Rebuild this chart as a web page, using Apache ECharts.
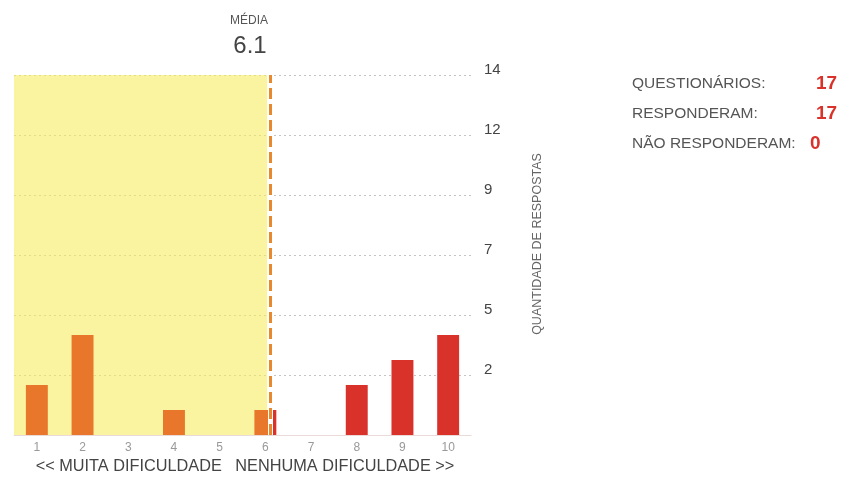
<!DOCTYPE html>
<html><head><meta charset="utf-8">
<script src="https://cdn.jsdelivr.net/npm/echarts@6/dist/echarts.min.js"></script>
<style>html,body{margin:0;padding:0;background:#fff}#c{width:868px;height:477px}</style>
</head><body><div id="c"></div>
<script>
// ---- data ----
const categories = ['1','2','3','4','5','6','7','8','9','10'];
const counts = [2, 4, 0, 1, 0, 1, 0, 2, 3, 4];
const yTickLabels = ['2','5','7','9','12','14'];
const yStep = 2.4;
const meanValue = 6.1;
const meanTitle = 'MÉDIA';
const infoLabels = ['QUESTIONÁRIOS:', 'RESPONDERAM:', 'NÃO RESPONDERAM:'];
const infoValues = ['17', '17', '0'];
const scaleCaption = '<< MUITA DIFICULDADE   NENHUMA DIFICULDADE >>';
const yName = 'QUANTIDADE DE RESPOSTAS';

// ---- styles ----
const FONT = "'Liberation Sans', Arial, sans-serif";
const ORANGE = '#E8772C';
const RED = '#D8322A';
const BAR_FRAC = 0.48;

const barData = counts.map((v, i) => {
  const c = i + 1;
  let color;
  if (c + BAR_FRAC / 2 <= meanValue) color = ORANGE;
  else if (c - BAR_FRAC / 2 >= meanValue) color = RED;
  else {
    const off = (meanValue - (c - BAR_FRAC / 2)) / BAR_FRAC;
    color = new echarts.graphic.LinearGradient(0, 0, 1, 0, [
      {offset: 0, color: ORANGE}, {offset: off, color: ORANGE},
      {offset: off, color: RED}, {offset: 1, color: RED}
    ]);
  }
  return {value: v, itemStyle: {color}};
});

const graphics = [
  {type: 'text', x: 249, y: 21, style: {text: meanTitle, font: '12px ' + FONT, fill: '#555', textAlign: 'center', textVerticalAlign: 'middle'}},
  {type: 'text', x: 250, y: 46, style: {text: meanValue.toFixed(1), font: '24px ' + FONT, fill: '#444', textAlign: 'center', textVerticalAlign: 'middle'}},
  {type: 'text', x: 245, y: 467, style: {text: scaleCaption, font: '16.3px ' + FONT, fill: '#444', textAlign: 'center', textVerticalAlign: 'middle'}},
  {type: 'text', x: 538, y: 244, rotation: Math.PI / 2, style: {text: yName, font: '12.5px ' + FONT, fill: '#666', textAlign: 'center', textVerticalAlign: 'middle'}}
];
infoLabels.forEach((t, i) => {
  graphics.push({type: 'text', x: 632, y: 84 + 30 * i, style: {text: t, font: '15.5px ' + FONT, fill: '#555', textVerticalAlign: 'middle'}});
  graphics.push({type: 'text', x: i === 2 ? 810 : 816, y: 84 + 30 * i, style: {text: infoValues[i], font: 'bold 19px ' + FONT, fill: RED, textVerticalAlign: 'middle'}});
});

const chart = echarts.init(document.getElementById('c'), null, {renderer: 'canvas'});
chart.setOption({
  animation: false,
  backgroundColor: '#fff',
  textStyle: {fontFamily: FONT},
  grid: {left: 14, right: 397, top: 75, bottom: 42},
  xAxis: [
    {type: 'category', data: categories, boundaryGap: true,
     axisLine: {show: true, lineStyle: {color: '#eadada'}}, axisTick: {show: false},
     axisLabel: {color: '#999', fontSize: 12, margin: 7}},
    {type: 'value', min: 0.5, max: 10.5, show: false}
  ],
  yAxis: {
    type: 'value', position: 'right', min: 0, max: 14.4, interval: yStep,
    axisLine: {show: false}, axisTick: {show: false},
    splitLine: {lineStyle: {type: [2, 3], color: '#c4c4c4', width: 1}},
    axisLabel: {
      formatter: v => { const i = Math.round(v / yStep); return i > 0 ? yTickLabels[i - 1] : ''; },
      margin: 13, color: '#444', fontSize: 15, verticalAlign: 'bottom', lineHeight: 11
    }
  },
  series: [
    {type: 'line', xAxisIndex: 1, data: [], symbol: 'none', z: 1, silent: true,
     markArea: {silent: true, itemStyle: {color: '#F7EC60', opacity: 0.6},
       data: [[{xAxis: 0.5}, {xAxis: meanValue - 0.06}]]}},
    {type: 'bar', xAxisIndex: 0, data: barData, barWidth: (BAR_FRAC * 100) + '%', z: 3},
    {type: 'line', xAxisIndex: 1, data: [], symbol: 'none', z: 4, silent: true,
     markLine: {silent: true, symbol: 'none', label: {show: false},
       data: [
         {xAxis: meanValue, lineStyle: {color: '#ffffff', width: 5, type: 'solid'}},
         {xAxis: meanValue, lineStyle: {color: '#E8892E', width: 3, type: [11, 5]}}
       ]}}
  ],
  graphic: graphics
});
</script></body></html>
